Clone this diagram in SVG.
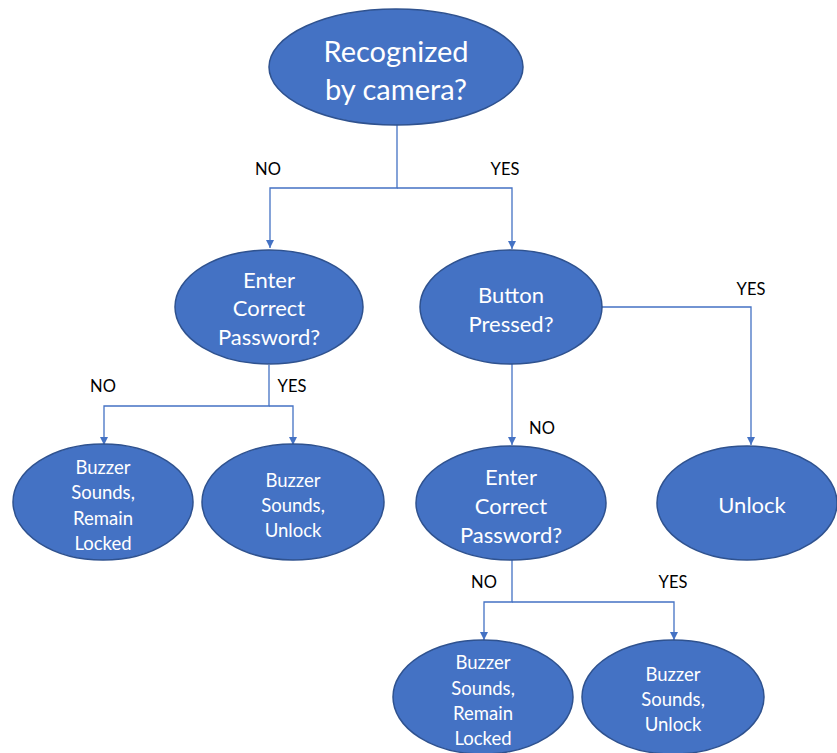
<svg xmlns="http://www.w3.org/2000/svg" width="837" height="753" viewBox="0 0 837 753">
<defs>
<style>
.node{fill:#4472C4;stroke:#2F528F;stroke-width:1.5}
.nt{fill:#fff;font-family:Lato,"Open Sans",sans-serif;text-anchor:middle;dominant-baseline:central}
.big{font-size:29px}
.mid{font-size:22px}
.sm{font-size:18.5px}
.lbl{fill:#000;font-family:Lato,"Open Sans",sans-serif;font-size:16.5px;text-anchor:middle;dominant-baseline:central}
.edge{fill:none;stroke:#4472C4;stroke-width:1.3}
</style>
<marker id="arr" viewBox="0 0 10 10" refX="10" refY="5" markerWidth="8" markerHeight="8" markerUnits="userSpaceOnUse" orient="auto">
<path d="M0,0 L10,5 L0,10 z" fill="#4472C4"/>
</marker>
</defs>
<rect width="837" height="753" fill="#fff"/>
<g id="connectors">
<path class="edge" d="M397,125 V188 H270 V248" marker-end="url(#arr)"/>
<path class="edge" d="M397,188 H512 V249" marker-end="url(#arr)"/>
<path class="edge" d="M269,365 V406 H104 V445" marker-end="url(#arr)"/>
<path class="edge" d="M269,406 H293 V445" marker-end="url(#arr)"/>
<path class="edge" d="M602,307 H751 V445" marker-end="url(#arr)"/>
<path class="edge" d="M512,364 V445" marker-end="url(#arr)"/>
<path class="edge" d="M512,560 V602 H484 V640" marker-end="url(#arr)"/>
<path class="edge" d="M512,602 H674 V640" marker-end="url(#arr)"/>
<text class="lbl" x="268" y="169">NO</text>
<text class="lbl" x="505" y="169">YES</text>
<text class="lbl" x="103" y="386">NO</text>
<text class="lbl" x="292" y="386">YES</text>
<text class="lbl" x="751" y="289">YES</text>
<text class="lbl" x="542" y="428">NO</text>
<text class="lbl" x="484" y="582">NO</text>
<text class="lbl" x="673" y="582">YES</text>
</g>
<g id="n-camera">
<ellipse class="node" cx="396" cy="67" rx="127" ry="58"/>
<text class="nt big" x="396" y="50">Recognized</text>
<text class="nt big" x="396" y="88">by camera?</text>
</g>
<g id="n-pass1">
<ellipse class="node" cx="269" cy="307" rx="94" ry="57"/>
<text class="nt mid" x="269" y="279">Enter</text>
<text class="nt mid" x="269" y="307">Correct</text>
<text class="nt mid" x="269" y="336">Password?</text>
</g>
<g id="n-button">
<ellipse class="node" cx="511" cy="307" rx="91" ry="57"/>
<text class="nt mid" x="511" y="294">Button</text>
<text class="nt mid" x="511" y="323">Pressed?</text>
</g>
<g id="n-buzz-locked1">
<ellipse class="node" cx="103" cy="502" rx="90" ry="58"/>
<text class="nt sm" x="103" y="467">Buzzer</text>
<text class="nt sm" x="103" y="492">Sounds,</text>
<text class="nt sm" x="103" y="518">Remain</text>
<text class="nt sm" x="103" y="543">Locked</text>
</g>
<g id="n-buzz-unlock1">
<ellipse class="node" cx="293" cy="502" rx="91" ry="58"/>
<text class="nt sm" x="293" y="480">Buzzer</text>
<text class="nt sm" x="293" y="505">Sounds,</text>
<text class="nt sm" x="293" y="530">Unlock</text>
</g>
<g id="n-pass2">
<ellipse class="node" cx="511" cy="503" rx="95" ry="57"/>
<text class="nt mid" x="511" y="476">Enter</text>
<text class="nt mid" x="511" y="505">Correct</text>
<text class="nt mid" x="511" y="534">Password?</text>
</g>
<g id="n-unlock">
<ellipse class="node" cx="747" cy="503" rx="90" ry="57"/>
<text class="nt mid" x="752" y="504">Unlock</text>
</g>
<g id="n-buzz-locked2">
<ellipse class="node" cx="483" cy="697" rx="90" ry="57"/>
<text class="nt sm" x="483" y="662">Buzzer</text>
<text class="nt sm" x="483" y="688">Sounds,</text>
<text class="nt sm" x="483" y="713">Remain</text>
<text class="nt sm" x="483" y="738">Locked</text>
</g>
<g id="n-buzz-unlock2">
<ellipse class="node" cx="673" cy="697" rx="91" ry="57"/>
<text class="nt sm" x="673" y="674">Buzzer</text>
<text class="nt sm" x="673" y="699">Sounds,</text>
<text class="nt sm" x="673" y="724">Unlock</text>
</g>
</svg>
